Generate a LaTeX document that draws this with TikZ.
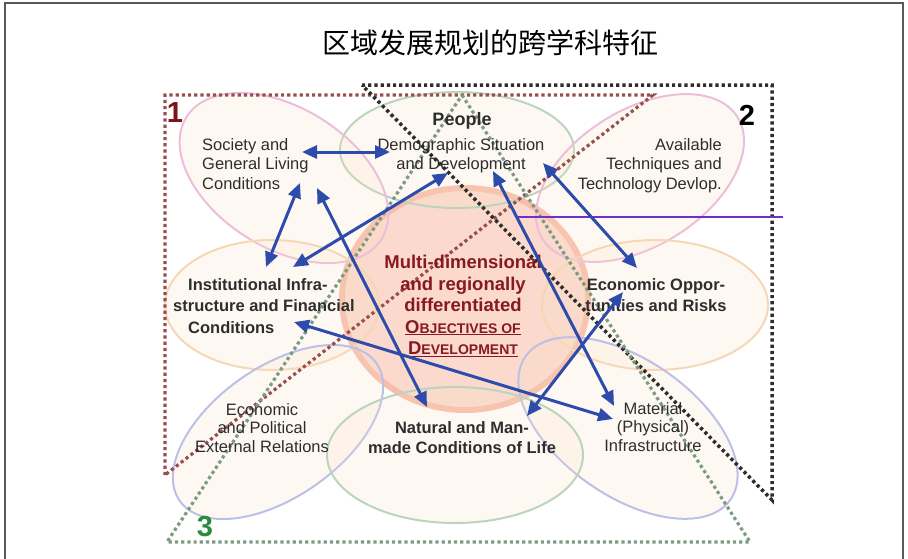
\documentclass[tikz,border=0pt]{standalone}
\usepackage{fontspec}
\setmainfont{Liberation Sans}
\newfontfamily\cjk{Noto Sans CJK SC}
\usetikzlibrary{arrows.meta}
\definecolor{arrowblue}{RGB}{45,75,170}
\definecolor{frameone}{RGB}{150,80,80}
\definecolor{frametwo}{RGB}{45,45,45}
\definecolor{framethree}{RGB}{125,155,130}
\definecolor{objred}{RGB}{135,25,35}
\definecolor{onered}{RGB}{125,20,25}
\definecolor{threegreen}{RGB}{40,140,60}
\definecolor{textgray}{RGB}{45,45,45}
\definecolor{salmonfill}{RGB}{251,218,205}
\definecolor{salmonring}{RGB}{247,188,170}
\definecolor{peach}{RGB}{250,225,200}
\definecolor{pinkline}{RGB}{237,190,218}
\definecolor{greenline}{RGB}{188,212,188}
\definecolor{orangeline}{RGB}{246,215,180}
\definecolor{blueline}{RGB}{188,192,230}
\definecolor{purpleline}{RGB}{115,45,200}
\newcommand{\smcap}[2]{#1{\fontsize{14}{14}\selectfont #2}}

\begin{document}
\begin{tikzpicture}[x=1pt, y=-1pt,
	field/.style={fill=peach, fill opacity=0.22, line width=2pt},
	link/.style={arrowblue, line width=3pt, arrows={Triangle[length=15pt,width=13pt]-Triangle[length=15pt,width=13pt]}},
	dotline/.style={line width=3.2pt, dash pattern=on 3.2pt off 3pt},
	plain/.style={text=textgray, font=\fontsize{16.5}{19.5}\selectfont, inner sep=0pt},
	heavy/.style={text=textgray, font=\fontsize{16.5}{21.5}\selectfont\bfseries, inner sep=0pt},
	digit/.style={font=\fontsize{29}{29}\selectfont\bfseries, inner sep=0pt}]
	\useasboundingbox (0,0) rectangle (908,558);
	\draw[black!65, line width=1.2pt] (5,3) rectangle (903,600);
	\node[font=\cjk\fontsize{28}{28}\selectfont, text=black] (title) at (490,43) {区域发展规划的跨学科特征};
	% fields
	\draw[salmonring, fill=salmonfill, line width=6pt] (465,299) ellipse [x radius=123, y radius=111];
	\draw[field, draw=greenline] (457,150) ellipse [x radius=117, y radius=58];
	\draw[field, draw=pinkline] (284,178) ellipse [x radius=115, y radius=70, rotate=-32];
	\draw[field, draw=pinkline] (640,178) ellipse [x radius=115, y radius=68, rotate=32];
	\draw[field, draw=orangeline] (272,305) ellipse [x radius=107, y radius=65];
	\draw[field, draw=orangeline] (655,305) ellipse [x radius=113, y radius=65];
	\draw[field, draw=blueline] (278,432) ellipse [x radius=120, y radius=65, rotate=35];
	\draw[field, draw=blueline] (628,428) ellipse [x radius=125, y radius=68, rotate=-35];
	\draw[field, draw=greenline] (455,455) ellipse [x radius=128, y radius=68];
	% frames 1, 2, 3
	\draw[dotline, frameone] (165,475) -- (165,95) -- (653,95) -- cycle;
	\draw[dotline, frametwo, line width=3.5pt] (362,85) -- (772,85) -- (772,500) -- cycle;
	\draw[dotline, framethree] (462,95) -- (750,542) -- (167,542) -- cycle;
	\draw[purpleline, line width=2pt] (517,217) -- (783,217);
	\node[digit, text=onered] (one) at (175,113) {1};
	\node[digit, text=black] (two) at (747,115) {2};
	\node[digit, text=threegreen] (three) at (205,527) {3};
	% texts
	\node[plain, anchor=north west, align=left] (society) at (202,138) {Society and\\General Living\\Conditions};
	\node[heavy, font=\fontsize{18}{18}\selectfont\bfseries, anchor=north] (people) at (462,112) {People};
	\node[plain, anchor=north, align=center] (demog) at (461,138) {Demographic Situation\\and Development};
	\node[plain, anchor=north east, align=right] (techno) at (722,138) {Available\\Techniques and\\Technology Devlop.};
	\node[heavy, anchor=north west, align=left] (institut) at (173,278) {\hspace*{15pt}Institutional Infra-\\structure and Financial\\\hspace*{15pt}Conditions};
	\node[heavy, text=objred, font=\fontsize{18.5}{21.5}\selectfont\bfseries, anchor=north, align=center] (objectives) at (463,255)
		{Multi-dimensional\\and regionally\\differentiated\\\underline{\smcap{O}{BJECTIVES OF}}\\\underline{\smcap{D}{EVELOPMENT}}};
	\node[heavy, anchor=north, align=center] (econopp) at (656,278) {Economic Oppor-\\tunities and Risks};
	\node[plain, font=\fontsize{16.5}{18.5}\selectfont, anchor=north, align=center] (external) at (262,403) {Economic\\and Political\\External Relations};
	\node[heavy, font=\fontsize{16.5}{20}\selectfont\bfseries, anchor=north, align=center] (natural) at (462,421) {Natural and Man-\\made Conditions of Life};
	\node[plain, font=\fontsize{16.5}{18.5}\selectfont, anchor=north, align=center] (material) at (653,402) {Material\\(Physical)\\Infrastructure};
	% arrow ends
	\coordinate (soc-r) at (302,152);
	\coordinate (soc-b) at (300,183);
	\coordinate (soc-d) at (317,188);
	\coordinate (dem-l) at (390,152);
	\coordinate (dem-b) at (448,173);
	\coordinate (dem-m) at (493,171);
	\coordinate (dem-r) at (543,163);
	\coordinate (ins-t) at (266,267);
	\coordinate (ins-u) at (293,267);
	\coordinate (ins-r) at (294,322);
	\coordinate (eco-t) at (637,268);
	\coordinate (eco-b) at (623,292);
	\coordinate (nat-l) at (427,407);
	\coordinate (nat-r) at (527,416);
	\coordinate (mat-t) at (614,406);
	\coordinate (mat-l) at (613,419);
	% links
	\draw[link] (soc-r) -- (dem-l);
	\draw[link] (soc-b) -- (ins-t);
	\draw[link] (ins-u) -- (dem-b);
	\draw[link] (soc-d) -- (nat-l);
	\draw[link] (dem-m) -- (mat-t);
	\draw[link] (dem-r) -- (eco-t);
	\draw[link] (ins-r) -- (mat-l);
	\draw[link] (eco-b) -- (nat-r);
\end{tikzpicture}
\end{document}
